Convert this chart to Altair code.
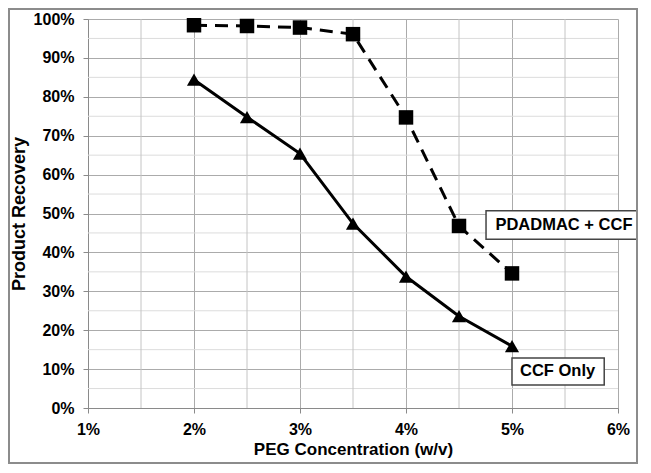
import altair as alt
import pandas as pd

# ---- data ----
peg = [2, 2.5, 3, 3.5, 4, 4.5, 5]
pdadmac_ccf = [98.4, 98.2, 97.8, 96.1, 74.7, 46.8, 34.6]
ccf_only = [84.4, 74.8, 65.4, 47.4, 33.8, 23.6, 15.9]

x_ticks = [1, 2, 3, 4, 5, 6]
x_minor = [1.5, 2.5, 3.5, 4.5, 5.5]
y_ticks = [0, 10, 20, 30, 40, 50, 60, 70, 80, 90, 100]
y_minor = [5, 15, 25, 35, 45, 55, 65, 75, 85, 95]

labels = ["PDADMAC + CCF", "CCF Only"]
label_x = [5.49, 5.43]
label_y = [47.0, 9.4]
box_x1 = [4.755, 5.0]
box_x2 = [6.22, 5.87]
box_y1 = [43.4, 5.9]
box_y2 = [50.7, 12.85]

FONT = "Liberation Sans"

df_sq = pd.DataFrame({"peg": peg, "rec": pdadmac_ccf})
df_tr = pd.DataFrame({"peg": peg, "rec": ccf_only})
df_lab = pd.DataFrame({"label": labels, "x": label_x, "y": label_y,
                       "x1": box_x1, "x2": box_x2, "y1": box_y1, "y2": box_y2})

xs = alt.Scale(domain=[1, 6], nice=False)
ys = alt.Scale(domain=[0, 100], nice=False)

x_axis = alt.Axis(values=x_ticks, labelExpr="datum.value + '%'", title="PEG Concentration (w/v)",
                  grid=True, gridColor="#ababab", domainColor="#8a8a8a", tickColor="#8a8a8a",
                  tickSize=5, labelPadding=8, labelFlush=False, labelFont=FONT, labelFontSize=16,
                  labelFontWeight="bold", labelColor="black", titleFont=FONT, titleFontSize=17,
                  titleFontWeight="bold", titleColor="black", titlePadding=4)
y_axis = alt.Axis(values=y_ticks, labelExpr="datum.value + '%'", title="Product Recovery",
                  grid=True, gridColor="#ababab", domainColor="#8a8a8a", tickColor="#8a8a8a",
                  tickSize=5, labelPadding=9, labelFlush=False, labelFont=FONT, labelFontSize=16,
                  labelFontWeight="bold", labelColor="black", titleFont=FONT, titleFontSize=18,
                  titleFontWeight="bold", titleColor="black", titlePadding=5)


def X(field):
    return alt.X(field, scale=xs, axis=x_axis)


def Y(field):
    return alt.Y(field, scale=ys, axis=y_axis)


minor_y = alt.Chart(pd.DataFrame({"v": y_minor})).mark_rule(color="#dcdcdc", strokeWidth=1).encode(
    y=Y("v:Q"))
minor_x = alt.Chart(pd.DataFrame({"v": x_minor})).mark_rule(color="#c4c4c4", strokeWidth=1).encode(
    x=X("v:Q"))

line_sq = alt.Chart(df_sq).mark_line(color="black", strokeWidth=3, strokeDash=[13, 8]).encode(
    x=X("peg:Q"), y=Y("rec:Q"))
pts_sq = alt.Chart(df_sq).mark_point(shape="square", filled=True, color="black", size=210, opacity=1).encode(
    x=X("peg:Q"), y=Y("rec:Q"))

line_tr = alt.Chart(df_tr).mark_line(color="black", strokeWidth=3).encode(
    x=X("peg:Q"), y=Y("rec:Q"))
pts_tr = alt.Chart(df_tr).mark_point(shape="triangle-up", filled=True, color="black", size=200, opacity=1).encode(
    x=X("peg:Q"), y=Y("rec:Q"))

boxes = alt.Chart(df_lab).mark_rect(fill="white", stroke="#444444", strokeWidth=1.5).encode(
    x=X("x1:Q"), x2="x2:Q", y=Y("y1:Q"), y2="y2:Q")
texts = alt.Chart(df_lab).mark_text(font=FONT, fontSize=16.5, fontWeight="bold", color="black",
                                    align="center", baseline="middle").encode(
    x=X("x:Q"), y=Y("y:Q"), text="label:N")

frame = alt.Chart(pd.DataFrame({"a": [0]})).mark_rect(fill="transparent", stroke="#8c8c8c", strokeWidth=2).encode(
    x=alt.value(-79), x2=alt.value(530 + 19), y=alt.value(-10), y2=alt.value(389 + 55))

chart = alt.layer(minor_y, minor_x, line_sq, pts_sq, line_tr, pts_tr, boxes, texts, frame).properties(
    width=530, height=389,
    padding={"left": 80, "top": 11, "right": 20, "bottom": 56},
    autosize=alt.AutoSizeParams(type="none"),
    background="white",
).configure_view(stroke=None)

chart.save("out.html", embed_options={"renderer": "svg", "actions": False})
